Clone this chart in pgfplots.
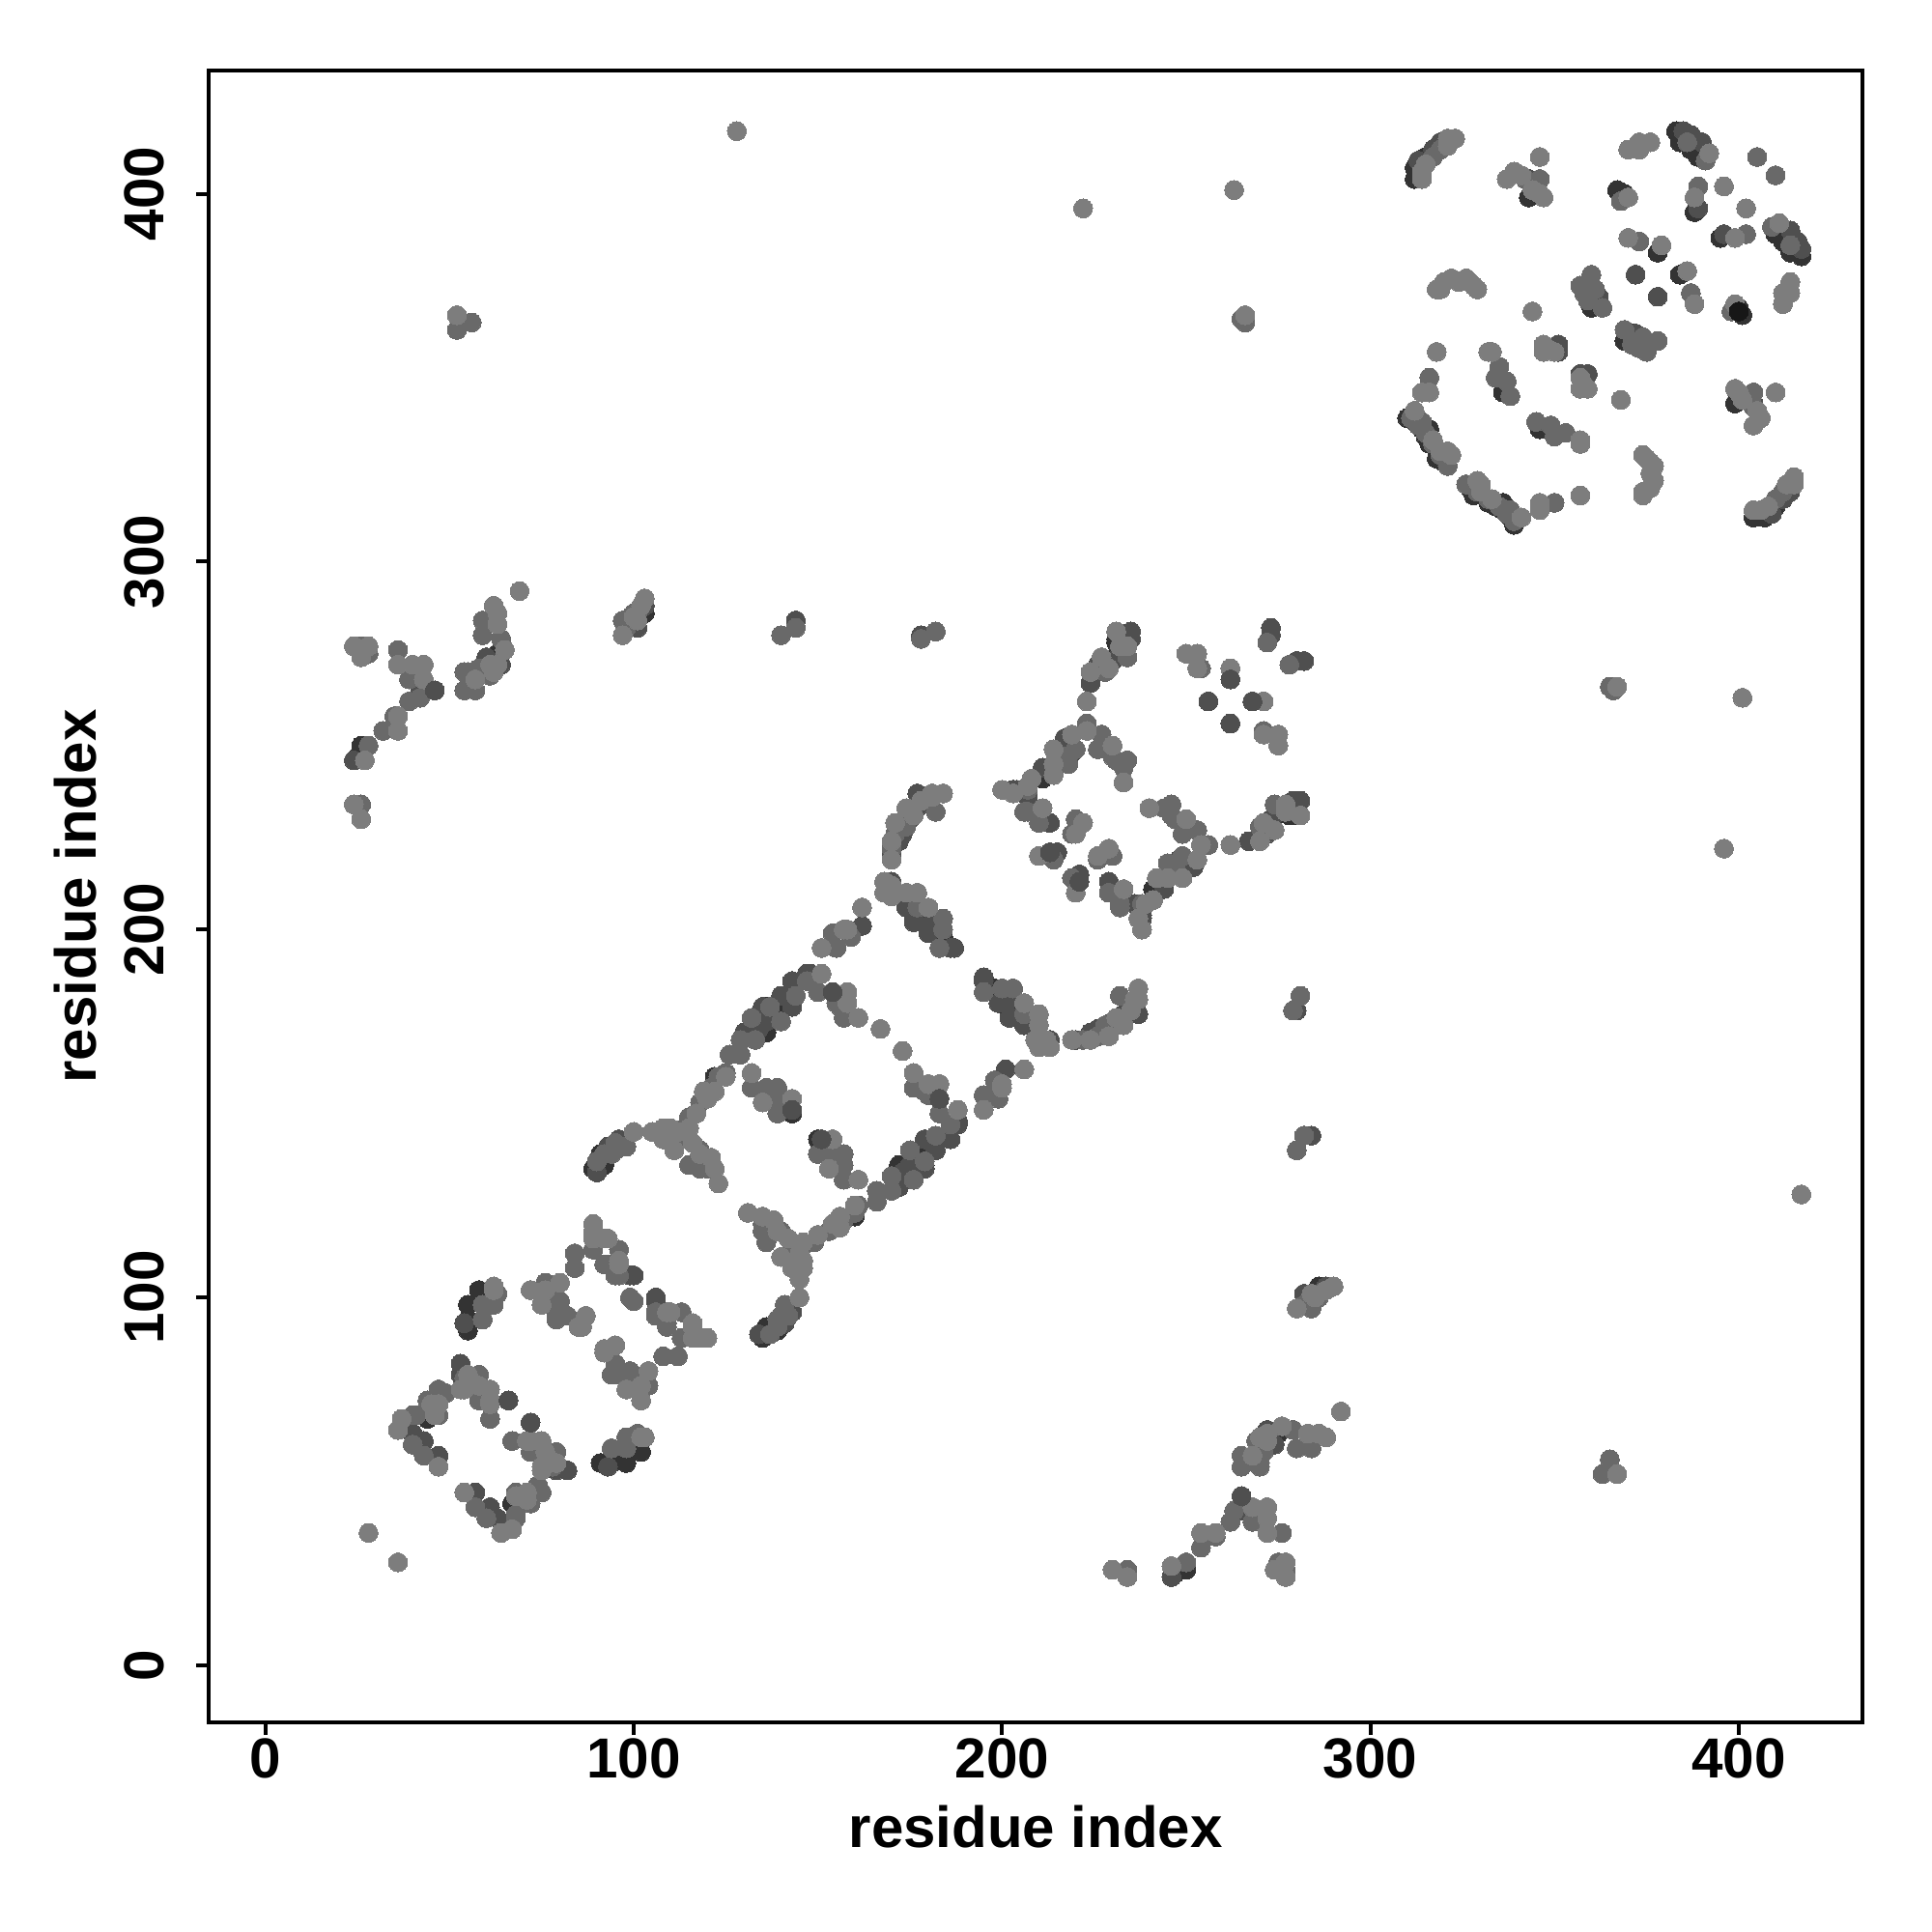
\documentclass[border=0pt]{standalone}
\usepackage{fontspec}
\setmainfont{Liberation Sans}
\usepackage{pgfplots}
\usepackage{pgfplotstable}
\pgfplotsset{compat=1.18}
% contact map is symmetric: only a<b is listed, each table is drawn twice
\pgfplotstableread[row sep=\\]{a b\\
44 67\\ 46 71\\ 60 72\\ 55 91\\ 55 98\\ 58 102\\ 55 94\\ 89 135\\ 92 136\\ 91 139\\
140 179\\ 136 172\\ 143 182\\ 122 160\\ 136 179\\ 154 183\\ 143 150\\ 184 198\\ 178 202\\
211 241\\ 226 270\\ 227 274\\ 231 278\\ 231 274\\ 231 279\\ 213 221\\
26 250\\ 25 247\\ 63 275\\ 46 265\\ 103 286\\
312 404\\ 312 407\\ 315 410\\ 383 417\\ 384 414\\ 387 412\\ 389 410\\ 388 395\\ 378 384\\ 362 371\\ 360 369\\ 343 399\\ 351 357\\ 336 346\\
310 339\\ 312 338\\ 316 336\\ 315 334\\ 316 332\\ 318 328\\ 367 401\\ 369 400\\ 361 370\\ 314 336\\ 320 327\\
}\underpts
\pgfplotstableread[row sep=\\]{a b\\
53 82\\ 53 79\\ 40 63\\ 43 61\\ 47 57\\ 66 72\\ 59 98\\ 54 93\\ 59 94\\ 99 106\\ 106 100\\ 93 141\\ 90 134\\ 96 143\\
148 188\\ 143 186\\ 140 182\\ 143 179\\ 135 179\\ 136 175\\ 134 173\\ 130 172\\ 132 172\\ 147 188\\ 131 172\\
155 195\\ 162 201\\ 176 202\\ 180 199\\ 174 206\\ 187 195\\ 186 195\\ 170 213\\ 176 204\\ 181 202\\ 177 233\\ 177 237\\ 170 220\\
224 267\\ 234 279\\ 235 281\\ 235 279\\ 234 274\\ 217 252\\ 211 244\\ 204 238\\ 213 229\\ 213 220\\ 215 221\\ 207 236\\ 203 238\\ 218 245\\ 219 248\\ 226 249\\
256 262\\ 262 268\\ 273 280\\ 273 282\\ 24 246\\ 64 272\\ 60 274\\ 56 270\\ 42 265\\ 103 288\\ 144 284\\ 178 280\\ 101 282\\
313 409\\ 317 412\\ 319 414\\ 343 404\\ 344 401\\ 385 417\\ 387 416\\ 390 414\\ 389 396\\ 372 378\\ 351 359\\ 357 351\\ 359 351\\ 316 350\\
172 224\\ 173 226\\ 175 230\\ 176 233\\ 58 269\\ 228 272\\ 226 272\\ 230 273\\ 172 228\\ 174 231\\ 362 372\\
}\darkpts
\pgfplotstableread[row sep=\\]{a b\\
40 68\\ 40 60\\ 43 57\\ 44 72\\ 47 75\\ 49 74\\ 58 79\\ 58 72\\ 61 67\\ 61 71\\ 58 75\\ 54 78\\ 47 54\\ 43 57\\ 40 60\\ 41 68\\ 47 68\\ 48 74\\
59 94\\ 59 98\\ 62 98\\ 63 101\\ 72 102\\ 76 104\\ 79 99\\ 79 95\\ 82 95\\ 84 112\\ 84 108\\ 89 113\\ 96 113\\ 92 109\\ 95 106\\ 79 94\\ 80 99\\ 80 104\\
113 96\\ 106 96\\ 109 93\\ 113 89\\ 100 99\\ 95 140\\ 98 141\\ 94 139\\ 113 143\\ 115 136\\ 118 140\\ 118 135\\ 114 146\\ 114 144\\ 120 135\\ 90 137\\ 92 139\\ 95 142\\
118 153\\ 115 149\\ 117 150\\ 121 157\\ 125 161\\ 123 160\\ 126 166\\ 129 166\\ 129 170\\ 133 170\\ 132 176\\ 137 179\\ 140 175\\ 144 182\\ 147 186\\ 150 183\\ 155 180\\ 157 179\\ 158 180\\ 157 176\\ 161 176\\
132 157\\ 136 157\\ 139 157\\ 139 153\\ 139 150\\ 176 157\\ 179 156\\ 180 158\\ 
155 195\\ 154 199\\ 159 198\\ 184 200\\ 184 203\\ 183 195\\ 177 206\\ 174 210\\ 182 232\\ 174 228\\ 170 222\\ 171 226\\ 172 228\\ 173 229\\ 175 232\\ 
207 232\\ 210 229\\ 207 238\\ 217 247\\ 218 245\\ 220 249\\ 219 226\\ 220 230\\ 226 249\\ 223 256\\ 227 253\\ 230 247\\ 234 246\\ 233 244\\ 233 244\\ 231 246\\ 213 220\\ 214 219\\ 210 229\\ 206 232\\
223 256\\ 227 253\\ 234 274\\ 254 271\\ 262 271\\ 272 278\\ 36 276\\ 39 268\\ 39 262\\ 42 263\\ 35 258\\ 32 254\\ 26 277\\ 28 275\\ 26 234\\ 28 250\\ 54 270\\ 54 265\\ 57 265\\ 55 270\\ 61 269\\ 59 280\\ 59 284\\ 64 279\\ 58 271\\ 60 270\\ 228 270\\
97 284\\ 100 286\\ 98 282\\ 99 284\\ 101 286\\ 140 280\\ 144 282\\ 178 279\\ 182 281\\ 52 363\\ 56 365\\ 265 366\\ 266 365\\
317 410\\ 319 412\\ 342 404\\ 346 404\\ 405 410\\ 389 402\\ 386 414\\ 391 409\\ 368 398\\ 373 387\\ 360 378\\ 357 375\\ 359 372\\ 363 369\\ 373 387\\ 316 350\\ 335 353\\ 334 350\\ 337 349\\ 338 345\\ 314 338\\
311 339\\ 313 337\\ 315 335\\ 317 332\\ 319 329\\ 321 326\\ 358 373\\ 361 374\\ 359 371\\
}\midpts
\pgfplotstableread[row sep=\\]{a b\\
28 36\\ 36 64\\ 37 67\\ 36 64\\ 37 67\\ 46 68\\ 47 71\\ 55 79\\ 53 75\\ 58 76\\ 61 75\\ 61 72\\ 61 71\\ 54 75\\ 45 71\\ 47 54\\
62 102\\ 62 103\\ 80 104\\ 75 98\\ 87 95\\ 85 92\\ 86 92\\ 89 118\\ 92 116\\ 96 110\\ 109 96\\ 116 93\\ 116 89\\ 120 89\\ 85 92\\ 87 95\\ 72 102\\ 76 102\\ 75 98\\
100 145\\ 105 145\\ 108 143\\ 110 146\\ 111 140\\ 118 139\\ 121 138\\ 122 135\\ 123 131\\ 112 145\\ 108 146\\ 119 156\\ 116 142\\ 115 146\\ 120 154\\
132 161\\ 135 153\\ 143 154\\ 151 195\\ 158 183\\ 151 188\\ 125 160\\ 122 156\\ 117 150\\ 158 180\\ 167 173\\ 176 161\\ 158 183\\ 183 158\\ 
151 195\\ 158 200\\ 157 200\\ 162 206\\ 177 210\\ 180 206\\ 168 213\\ 168 210\\ 170 209\\ 174 210\\ 181 237\\ 184 237\\ 171 229\\ 174 233\\ 178 235\\
184 237\\ 181 236\\ 176 231\\ 171 229\\ 170 219\\ 170 212\\ 170 224\\
200 238\\ 203 237\\ 207 239\\ 208 241\\ 211 233\\ 214 249\\ 214 245\\ 214 242\\ 219 253\\ 222 229\\ 223 262\\ 223 254\\ 230 250\\ 233 240\\ 233 240\\ 224 270\\ 229 271\\ 227 274\\ 231 281\\ 231 281\\ 210 220\\ 222 229\\ 220 226\\ 232 277\\ 234 277\\
250 275\\ 253 275\\ 253 271\\ 262 271\\ 
69 292\\ 62 288\\ 63 286\\ 63 283\\ 65 276\\ 61 272\\ 43 268\\ 36 272\\ 40 272\\ 43 272\\ 36 258\\ 36 254\\ 24 277\\ 28 277\\ 26 274\\ 27 246\\ 24 234\\ 26 230\\ 57 268\\ 62 270\\ 63 272\\
97 280\\ 101 284\\ 103 290\\ 100 285\\ 102 288\\ 128 417\\ 222 396\\ 263 401\\ 52 367\\ 266 367\\
314 404\\ 314 406\\ 315 408\\ 321 415\\ 323 415\\ 321 413\\ 337 404\\ 339 406\\ 347 399\\ 346 410\\ 370 412\\ 373 414\\ 376 414\\ 373 412\\ 392 411\\ 388 399\\ 396 402\\ 370 399\\ 370 388\\ 379 386\\ 344 368\\
318 374\\ 320 376\\ 324 376\\ 327 376\\ 329 374\\ 318 357\\ 314 346\\ 316 346\\ 332 357\\ 333 357\\ 348 358\\ 350 357\\ 357 347\\ 359 347\\ 317 333\\ 319 330\\ 321 330\\ 322 329\\ 312 341\\ 328 375\\ 326 377\\ 322 377\\ 319 374\\ 344 401\\ 346 400\\ 341 405\\
}\lightpts
\pgfplotstableread[row sep=\\]{a b\\
66 72\\ 46 265\\ 256 262\\ 143 151\\ 154 183\\ 262 268\\ 213 221\\
}\toppts
\pgfplotstableread[row sep=\\]{a b\\
368 400\\
}\blackpts
\tikzset{gpt/.style={only marks, mark=*, mark size=2.45pt, mark options={draw=#1, fill=#1, line width=0pt}}}
\definecolor{g0}{gray}{0.09}
\definecolor{g1}{gray}{0.20}
\definecolor{g2}{gray}{0.31}
\definecolor{g3}{gray}{0.41}
\definecolor{g4}{gray}{0.49}
\begin{document}
\begin{tikzpicture}
  \useasboundingbox (-54pt,-51.75pt) rectangle (446pt,448.25pt);
  \begin{axis}[
    scale only axis, width=428.1pt, height=427.7pt,
    at={(0pt,2.4pt)}, anchor=south west,
    xmin=-15.4, xmax=433.7, ymin=-15.6, ymax=433.6,
    axis line style={line width=1pt},
    tick align=outside, tick pos=left,
    major tick style={line width=1pt, black},
    major tick length=3.2pt,
    xtick={0,100,...,400}, ytick={0,100,...,400},
    /pgf/number format/assume math mode=true,
    tick label style={font=\fontsize{14.6}{14.6}\selectfont\bfseries},
    yticklabel style={rotate=90, anchor=center, yshift=13.5pt},
    xticklabel style={anchor=center, yshift=-6pt},
    label style={font=\fontsize{15}{15}\selectfont\bfseries},
    xlabel={residue index}, ylabel={residue index},
    xlabel style={at={(axis description cs:0.5,0)}, anchor=center, yshift=-27pt},
    ylabel style={at={(axis description cs:0,0.5)}, anchor=center, rotate=0, yshift=34.6pt},
  ]
    \addplot[gpt=g1] table[x=a,y=b] {\underpts};
    \addplot[gpt=g1] table[x=b,y=a] {\underpts};
    \addplot[gpt=g2] table[x=a,y=b] {\darkpts};
    \addplot[gpt=g2] table[x=b,y=a] {\darkpts};
    \addplot[gpt=g3] table[x=a,y=b] {\midpts};
    \addplot[gpt=g3] table[x=b,y=a] {\midpts};
    \addplot[gpt=g4] table[x=a,y=b] {\lightpts};
    \addplot[gpt=g4] table[x=b,y=a] {\lightpts};
    \addplot[gpt=g2] table[x=a,y=b] {\toppts};
    \addplot[gpt=g2] table[x=b,y=a] {\toppts};
    \addplot[gpt=g0] table[x=b,y=a] {\blackpts};
  \end{axis}
\end{tikzpicture}
\end{document}
